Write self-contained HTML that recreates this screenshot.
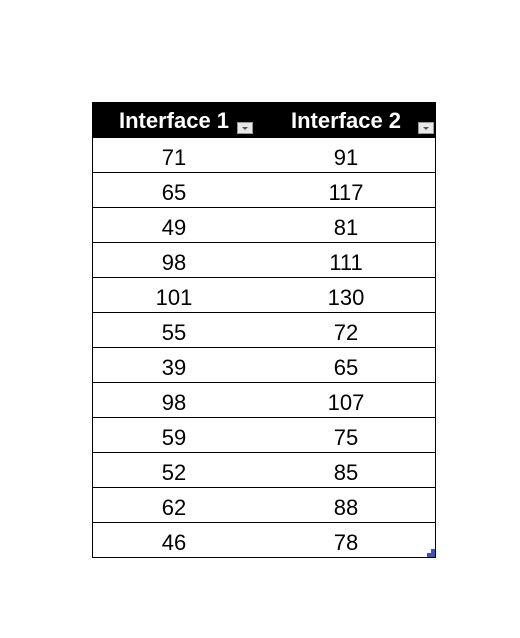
<!DOCTYPE html>
<html><head><style>
body{margin:0;background:#fff;width:520px;height:638px;position:relative;overflow:hidden;font-family:"Liberation Sans",sans-serif}
.h{position:absolute;top:102px;left:92px;width:344px;height:36px;background:#000}
.ht{position:absolute;top:108px;color:#fff;font-weight:bold;font-size:22px;width:172px;text-align:center}
.dd{position:absolute;top:122px;width:16px;height:12px;background:#e8e8e8;border:1px solid #999;box-sizing:border-box}
.dd:after{content:"";position:absolute;left:4px;top:4px;border-left:3px solid transparent;border-right:3px solid transparent;border-top:3px solid #555}
.r{position:absolute;left:92px;width:344px;height:35px;border-bottom:1px solid #000;box-sizing:border-box}
.lb{position:absolute;top:138px;left:92px;width:1px;height:420px;background:#000}
.rb{position:absolute;top:138px;left:435px;width:1px;height:420px;background:#000}
.c{position:absolute;font-size:22px;color:#000;width:172px;text-align:center;line-height:35px;margin-top:2px}
</style></head><body>
<div class="h"></div>
<div class="ht" style="left:88px">Interface 1</div>
<div class="ht" style="left:260px">Interface 2</div>
<div class="dd" style="left:237px"></div>
<div class="dd" style="left:418px"></div>
<div class="lb"></div><div class="rb"></div>
<div class="r" style="top:138px"></div><div class="c" style="top:138px;left:88px">71</div><div class="c" style="top:138px;left:260px">91</div>
<div class="r" style="top:173px"></div><div class="c" style="top:173px;left:88px">65</div><div class="c" style="top:173px;left:260px">117</div>
<div class="r" style="top:208px"></div><div class="c" style="top:208px;left:88px">49</div><div class="c" style="top:208px;left:260px">81</div>
<div class="r" style="top:243px"></div><div class="c" style="top:243px;left:88px">98</div><div class="c" style="top:243px;left:260px">111</div>
<div class="r" style="top:278px"></div><div class="c" style="top:278px;left:88px">101</div><div class="c" style="top:278px;left:260px">130</div>
<div class="r" style="top:313px"></div><div class="c" style="top:313px;left:88px">55</div><div class="c" style="top:313px;left:260px">72</div>
<div class="r" style="top:348px"></div><div class="c" style="top:348px;left:88px">39</div><div class="c" style="top:348px;left:260px">65</div>
<div class="r" style="top:383px"></div><div class="c" style="top:383px;left:88px">98</div><div class="c" style="top:383px;left:260px">107</div>
<div class="r" style="top:418px"></div><div class="c" style="top:418px;left:88px">59</div><div class="c" style="top:418px;left:260px">75</div>
<div class="r" style="top:453px"></div><div class="c" style="top:453px;left:88px">52</div><div class="c" style="top:453px;left:260px">85</div>
<div class="r" style="top:488px"></div><div class="c" style="top:488px;left:88px">62</div><div class="c" style="top:488px;left:260px">88</div>
<div class="r" style="top:523px"></div><div class="c" style="top:523px;left:88px">46</div><div class="c" style="top:523px;left:260px">78</div>
<div style="position:absolute;left:431px;top:549px;width:4px;height:8px;background:#3f51b5"></div>
<div style="position:absolute;left:427px;top:553px;width:4px;height:4px;background:#3f51b5"></div>
</body></html>
